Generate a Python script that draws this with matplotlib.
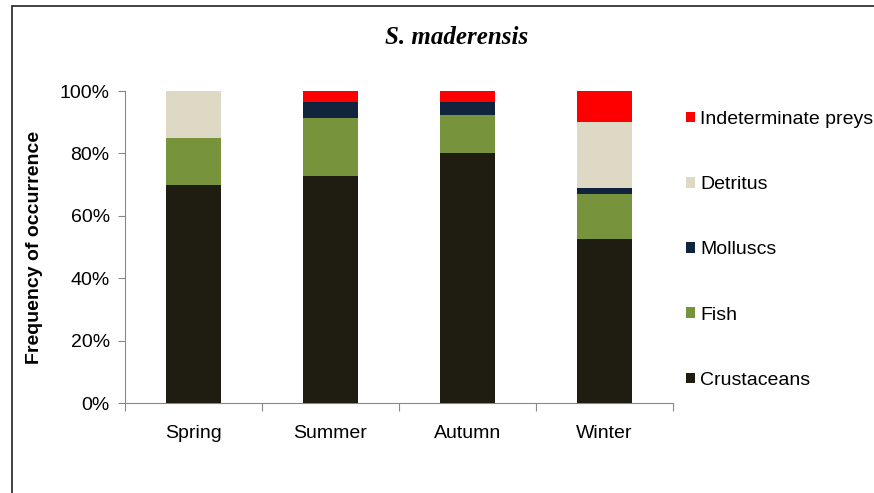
import matplotlib
matplotlib.use("Agg")
import matplotlib.pyplot as plt
import numpy as np
from matplotlib.patches import Rectangle
from matplotlib.ticker import FixedLocator, PercentFormatter

seasons = ["Spring", "Summer", "Autumn", "Winter"]
prey_types = ["Crustaceans", "Fish", "Molluscs", "Detritus", "Indeterminate preys"]
crustaceans = [69.8, 72.7, 80.0, 52.6]
fish = [15.2, 18.5, 12.2, 14.5]
molluscs = [0.0, 5.3, 4.3, 1.7]
detritus = [15.0, 0.0, 0.0, 21.4]
indeterminate = [0.0, 3.5, 3.5, 9.8]

COLORS = ["#1f1d12", "#77933c", "#10243e", "#ddd9c4", "#ff0000"]
SANS = "Liberation Sans"

fig = plt.figure(figsize=(8.74, 4.93), dpi=100)
# outer frame of the chart area
fig.add_artist(Rectangle((12 / 874, -0.05), 1.0, 1 - 6 / 493 + 0.05,
                         transform=fig.transFigure, fill=False,
                         edgecolor="#222222", linewidth=1.2))

ax = fig.add_axes([125 / 874, 1 - 403 / 493, 548 / 874, 312 / 493])
series = [crustaceans, fish, molluscs, detritus, indeterminate]
x = np.arange(len(seasons)) + 0.5
bottom = np.zeros(len(seasons))
handles = []
for name, vals, col in zip(prey_types, series, COLORS):
    b = ax.bar(x, vals, width=0.4, bottom=bottom, color=col, label=name,
               linewidth=0, zorder=3)
    handles.append(b)
    bottom += np.array(vals)

ax.set_xlim(0, len(seasons))
ax.set_ylim(0, 100)
ax.yaxis.set_major_locator(FixedLocator([0, 20, 40, 60, 80, 100]))
ax.yaxis.set_major_formatter(PercentFormatter(decimals=0))
ax.set_xticks(np.arange(len(seasons) + 1))
ax.set_xticklabels([])
ax.set_xticks(x, minor=True)
ax.set_xticklabels(seasons, minor=True)
ax.tick_params(axis="x", which="minor", length=0, pad=16, labelsize=14)
ax.tick_params(axis="x", which="major", length=6, color="#888888")
ax.tick_params(axis="y", length=5, color="#888888", labelsize=14, pad=6)
for lab in ax.get_xticklabels(minor=True) + ax.get_yticklabels():
    lab.set_fontfamily(SANS)
for s in ("top", "right"):
    ax.spines[s].set_visible(False)
for s in ("left", "bottom"):
    ax.spines[s].set_color("#888888")

ax.set_ylabel("Frequency of occurrence", fontsize=14, fontweight="bold",
              family=SANS, labelpad=12)

fig.text(457 / 874, 1 - 38 / 493, "S. maderensis", ha="center", va="center",
         fontsize=18, fontweight="bold", fontstyle="italic",
         family="Liberation Serif")

ax.legend(handles[::-1], prey_types[::-1], loc="upper left",
          bbox_to_anchor=(686 / 874, 1 - 111 / 493),
          bbox_transform=fig.transFigure, frameon=False,
          prop={"family": SANS, "size": 14}, handlelength=0.46,
          handleheight=0.46, handletextpad=0.26, labelspacing=2.48,
          borderaxespad=0, borderpad=0)

fig.savefig("out.png", dpi=100)
